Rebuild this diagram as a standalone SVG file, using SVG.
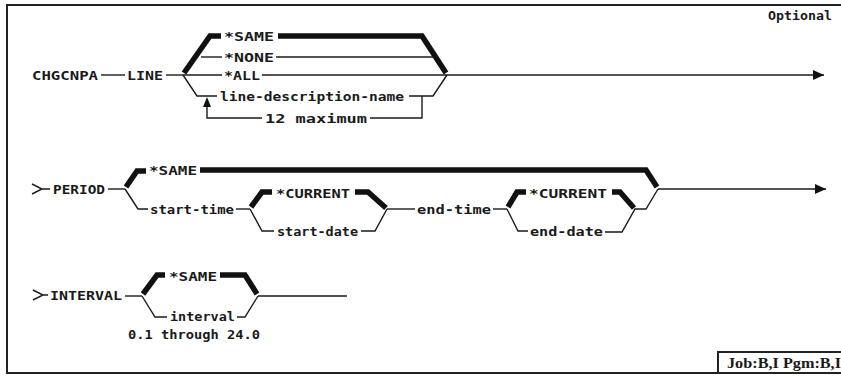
<svg xmlns="http://www.w3.org/2000/svg" width="841" height="377" viewBox="0 0 841 377">
<style>
.t{font-family:"DejaVu Sans Mono","Liberation Mono",monospace;font-weight:bold;font-size:12.5px;fill:#1a1a1a}
.j{font-family:"Liberation Serif","DejaVu Serif",serif;font-weight:bold;font-size:14px;fill:#1a1a1a}
.l{fill:none;stroke:#1a1a1a;stroke-width:1.4}
.k{fill:none;stroke:#111;stroke-width:5.5;stroke-linejoin:miter;stroke-linecap:butt}
.b{fill:none;stroke:#222;stroke-width:2}
</style>
<defs>
<marker id="ah" markerWidth="12" markerHeight="10" refX="11" refY="5" orient="auto" markerUnits="userSpaceOnUse">
<path d="M0,0 L11,5 L0,10 Z" fill="#111"/>
</marker>
</defs>
<rect width="841" height="377" fill="#fff"/>
<g id="frame">
<path class="b" d="M841,5 L7,5 L7,373 L841,373"/>
<path class="b" d="M718,373 L718,352 L841,352"/>
</g>
<g id="connectors">
<path class="l" d="M101,75 L125,75"/>
<path class="l" d="M166,75 L183,75"/>
<path class="k" d="M184,73 L210,36 L221,36"/>
<path class="l" d="M201,57 L222,57"/>
<path class="l" d="M183,75 L222,75"/>
<path class="l" d="M183,75 L197,96 L217,96"/>
<path class="k" d="M278,36 L422,36 L446,73"/>
<path class="l" d="M276,57 L436,57"/>
<path class="l" d="M262,75 L447,75"/>
<path class="l" d="M409,96 L433,96 L447,75"/>
<path class="l" d="M422,96 L422,118 L370,118"/>
<path class="l" d="M262,118 L207,118 L207,106"/>
<path d="M207,97 L203,107 L211,107 Z" fill="#111"/>
<path class="l" d="M447,75 L824,75" marker-end="url(#ah)"/>
<path class="l" d="M32,184 L42,189 L32,194 M42,189 L50,189"/>
<path class="l" d="M108,189 L125,189"/>
<path class="k" d="M126,187 L137,171 L146,171"/>
<path class="k" d="M200,170 L646,170 L657,187"/>
<path class="l" d="M125,189 L138,209 L148,209"/>
<path class="l" d="M236,209 L250,209"/>
<path class="k" d="M251,207 L262,192 L272,192"/>
<path class="l" d="M250,209 L262,231 L274,231"/>
<path class="k" d="M355,192 L368,192 L386,208"/>
<path class="l" d="M361,231 L375,231 L387,209"/>
<path class="l" d="M387,209 L415,209"/>
<path class="l" d="M493,209 L507,209"/>
<path class="k" d="M508,207 L517,192 L526,192"/>
<path class="l" d="M507,209 L518,231 L528,231"/>
<path class="k" d="M612,192 L620,192 L634,208"/>
<path class="l" d="M605,232 L622,232 L635,209 L646,209 L658,189"/>
<path class="l" d="M658,189 L826,189" marker-end="url(#ah)"/>
<path class="l" d="M33,290 L43,295 L33,300 M43,295 L48,295"/>
<path class="l" d="M125,296 L142,296"/>
<path class="k" d="M143,294 L157,275 L165,275"/>
<path class="k" d="M220,275 L245,275 L257,294"/>
<path class="l" d="M142,296 L155,317 L167,317"/>
<path class="l" d="M237,317 L245,317 L258,296"/>
<path class="l" d="M258,296 L347,296"/>
</g>
<g id="n-optional"><text class="t" x="768" y="20" textLength="64" lengthAdjust="spacingAndGlyphs">Optional</text></g>
<g id="n-chgcnpa"><text class="t" x="32" y="79.5" textLength="66" lengthAdjust="spacingAndGlyphs">CHGCNPA</text></g>
<g id="n-line"><text class="t" x="127" y="79.5" textLength="36" lengthAdjust="spacingAndGlyphs">LINE</text></g>
<g id="n-same1"><text class="t" x="224" y="40.5" textLength="50" lengthAdjust="spacingAndGlyphs">*SAME</text></g>
<g id="n-none"><text class="t" x="224" y="61.5" textLength="50" lengthAdjust="spacingAndGlyphs">*NONE</text></g>
<g id="n-all"><text class="t" x="224" y="79.5" textLength="36" lengthAdjust="spacingAndGlyphs">*ALL</text></g>
<g id="n-ldn"><text class="t" x="220" y="100.5" textLength="184" lengthAdjust="spacingAndGlyphs">line-description-name</text></g>
<g id="n-max"><text class="t" x="265" y="122.5" textLength="102" lengthAdjust="spacingAndGlyphs">12 maximum</text></g>
<g id="n-period"><text class="t" x="53" y="193.5" textLength="52" lengthAdjust="spacingAndGlyphs">PERIOD</text></g>
<g id="n-same2"><text class="t" x="149" y="174.5" textLength="48" lengthAdjust="spacingAndGlyphs">*SAME</text></g>
<g id="n-starttime"><text class="t" x="150" y="213.5" textLength="84" lengthAdjust="spacingAndGlyphs">start-time</text></g>
<g id="n-current1"><text class="t" x="276" y="197.5" textLength="74" lengthAdjust="spacingAndGlyphs">*CURRENT</text></g>
<g id="n-startdate"><text class="t" x="277" y="236" textLength="81" lengthAdjust="spacingAndGlyphs">start-date</text></g>
<g id="n-endtime"><text class="t" x="417" y="213.5" textLength="74" lengthAdjust="spacingAndGlyphs">end-time</text></g>
<g id="n-current2"><text class="t" x="529" y="197.5" textLength="78" lengthAdjust="spacingAndGlyphs">*CURRENT</text></g>
<g id="n-enddate"><text class="t" x="530" y="236" textLength="73" lengthAdjust="spacingAndGlyphs">end-date</text></g>
<g id="n-interval"><text class="t" x="50" y="299.5" textLength="72" lengthAdjust="spacingAndGlyphs">INTERVAL</text></g>
<g id="n-same3"><text class="t" x="169" y="280.5" textLength="48" lengthAdjust="spacingAndGlyphs">*SAME</text></g>
<g id="n-intv"><text class="t" x="170" y="321" textLength="65" lengthAdjust="spacingAndGlyphs">interval</text></g>
<g id="n-range"><text class="t" x="128" y="338.5" textLength="132" lengthAdjust="spacingAndGlyphs">0.1 through 24.0</text></g>
<g id="n-job"><text class="j" x="727" y="367.5" textLength="114" lengthAdjust="spacingAndGlyphs">Job:B,I Pgm:B,I</text></g>
</svg>
